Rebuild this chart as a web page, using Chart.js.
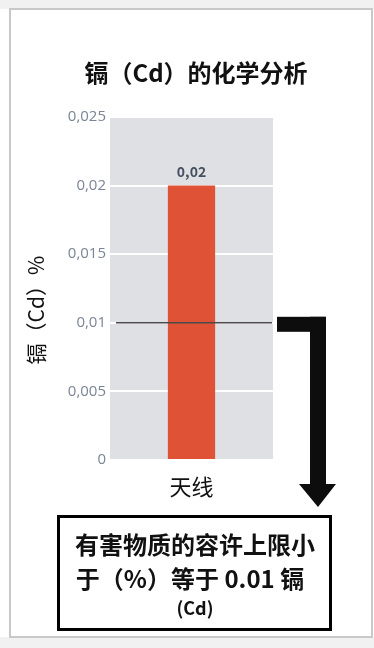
<!DOCTYPE html>
<html>
<head>
<meta charset="utf-8">
<script src="https://cdn.jsdelivr.net/npm/chart.js@4.4.1/dist/chart.umd.min.js"></script>
<style>
  html, body { margin: 0; padding: 0; background: #ffffff; }
  #wrap { width: 374px; height: 648px; }
</style>
</head>
<body>
<div id="wrap"><canvas id="cdChart" width="374" height="648"></canvas></div>
<script>
// 数据
const categories = ['天线'];
const cdValues = [0.02];
const limitValue = [0.01];
const yMin = 0;
const yMax = 0.025;
const yStep = 0.005;

const cjkFont = '"Noto Sans CJK SC", "Noto Sans", sans-serif';
const chartTitle = '镉（Cd）的化学分析';
const yTitle = '镉（Cd）%';
const noteLines = ['有害物质的容许上限小', '于（%）等于 0.01 镉', '(Cd)'];

// 逗号小数
function commaNum(v) {
  return parseFloat(Number(v).toFixed(3)).toString().replace('.', ',');
}

// 背景、边框、灰色绘图区
const backgroundPlugin = {
  id: 'bgPanel',
  beforeDraw(chart) {
    const ctx = chart.ctx;
    const a = chart.chartArea;
    ctx.save();
    ctx.fillStyle = '#ffffff';
    ctx.fillRect(0, 0, chart.width, chart.height);
    // 外框
    ctx.fillStyle = '#f1f1f1';
    ctx.fillRect(0, 0, chart.width, 9);
    ctx.fillRect(0, 637, chart.width, chart.height - 637);
    ctx.strokeStyle = '#c9c9c9';
    ctx.lineWidth = 2;
    ctx.strokeRect(10, 9, 362, 628);
    ctx.fillStyle = '#dfe0e3';
    ctx.fillRect(a.left, a.top, a.right - a.left, a.bottom - a.top);
    ctx.restore();
  }
};

// 标题、限值线、数值标签、箭头、说明框
const annotatePlugin = {
  id: 'annotate',
  afterDatasetsDraw(chart) {
    const ctx = chart.ctx;
    const a = chart.chartArea;
    const y = chart.scales.y;
    const ly = y.getPixelForValue(limitValue[0]);
    ctx.save();
    ctx.strokeStyle = '#4a4a4a';
    ctx.lineWidth = 1.5;
    ctx.beginPath();
    ctx.moveTo(a.left + 6, ly);
    ctx.lineTo(a.right - 1, ly);
    ctx.stroke();

    const meta = chart.getDatasetMeta(0);
    ctx.fillStyle = '#44505f';
    ctx.font = 'bold 14px ' + cjkFont;
    ctx.textAlign = 'center';
    ctx.textBaseline = 'middle';
    meta.data.forEach((bar, i) => {
      ctx.fillText(commaNum(cdValues[i]), bar.x, bar.y - 14);
    });
    ctx.restore();
  },
  afterDraw(chart) {
    const ctx = chart.ctx;
    const y = chart.scales.y;
    const ly = y.getPixelForValue(limitValue[0]);
    ctx.save();
    ctx.textAlign = 'center';
    ctx.textBaseline = 'middle';

    // 标题
    ctx.fillStyle = '#111111';
    ctx.font = 'bold 24px ' + cjkFont;
    ctx.fillText(chartTitle, 196, 73);

    // 纵轴标题
    ctx.font = '21px ' + cjkFont;
    ctx.translate(36, 310);
    ctx.rotate(-Math.PI / 2);
    ctx.fillText(yTitle, 0, 0);
    ctx.setTransform(1, 0, 0, 1, 0, 0);

    // 箭头
    ctx.fillStyle = '#0d0d0d';
    ctx.fillRect(277, ly - 6, 49, 15);
    ctx.fillRect(310, ly - 6, 16, 485 - (ly - 6));
    ctx.beginPath();
    ctx.moveTo(299, 484);
    ctx.lineTo(336, 484);
    ctx.lineTo(318, 507);
    ctx.closePath();
    ctx.fill();

    // 说明框
    ctx.strokeStyle = '#000000';
    ctx.lineWidth = 3;
    ctx.strokeRect(58.5, 516.5, 272, 113);
    ctx.fillStyle = '#111111';
    ctx.font = 'bold 24px ' + cjkFont;
    ctx.fillText(noteLines[0], 195, 545);
    ctx.fillText(noteLines[1], 190, 579);
    ctx.font = 'bold 18px ' + cjkFont;
    ctx.fillText(noteLines[2], 195, 608);
    ctx.restore();
  }
};

const cdOptions = {
  responsive: false,
  animation: false,
  devicePixelRatio: 1,
  layout: {
    padding: { top: 117, left: 20, right: 101, bottom: 148 }
  },
  plugins: {
    legend: { display: false },
    tooltip: { enabled: false },
    title: { display: false }
  },
  scales: {
    x: {
      grid: { display: false, drawTicks: false },
      border: { display: false },
      ticks: {
        padding: 13,
        color: '#111111',
        font: { family: cjkFont, size: 22 }
      },
      afterFit(scale) { scale.height = 40; }
    },
    y: {
      min: yMin,
      max: yMax,
      grid: { color: '#ffffff', lineWidth: 2, drawTicks: false },
      border: { display: false },
      ticks: {
        stepSize: yStep,
        padding: 4,
        color: '#7a8597',
        font: { family: '"Open Sans", "Liberation Sans", sans-serif', size: 15 },
        callback: (v) => commaNum(v)
      },
      afterFit(scale) { scale.width = 90; }
    }
  }
};

const cdData = {
  labels: categories,
  datasets: [{
    label: '镉（Cd）',
    data: cdValues,
    backgroundColor: '#e05236',
    borderWidth: 0,
    categoryPercentage: 1,
    barPercentage: 0.29
  }]
};

function createDrawChart(ctx, chart_type, data, options) {
  return new Chart(ctx, {
    type: chart_type,
    data: data,
    options: options,
    plugins: [backgroundPlugin, annotatePlugin]
  });
}

createDrawChart(document.getElementById('cdChart'), 'bar', cdData, cdOptions);
</script>
</body>
</html>
